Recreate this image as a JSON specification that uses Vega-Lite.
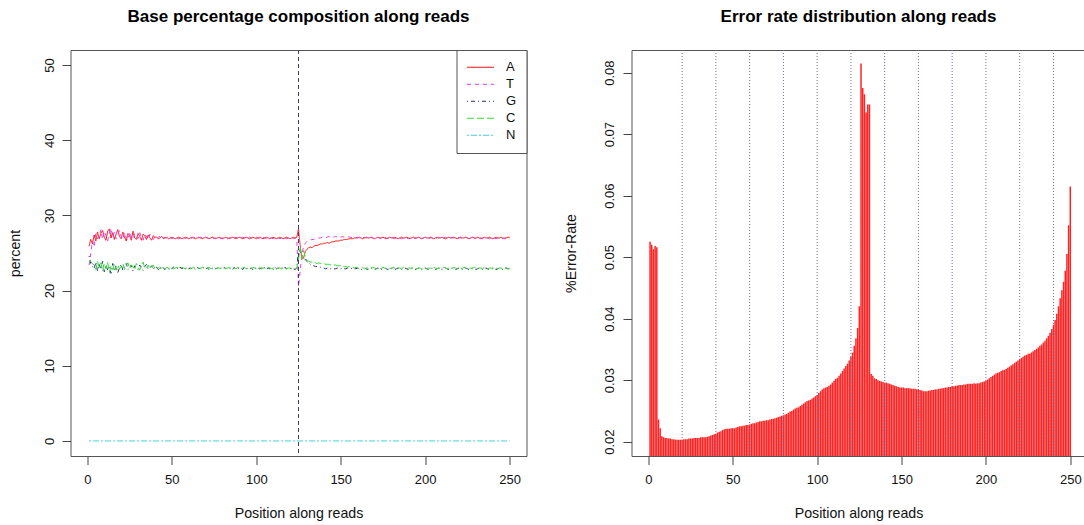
{
"$schema": "https://vega.github.io/schema/vega-lite/v6.json",
"padding": {"left": 7.5, "top": 7, "right": 0, "bottom": 0},
"background": "white",
"bounds": "flush",
"spacing": 105,
"resolve": {"legend": {"color": "independent", "strokeDash": "independent"}},
"config": {
  "font": "Liberation Sans",
  "view": {"stroke": "#555", "strokeWidth": 1},
  "axis": {"domain": false, "grid": false, "ticks": true, "tickColor": "#444", "tickSize": 8.5, "labelFont": "Liberation Sans", "labelFontSize": 13, "labelColor": "#111", "titleFont": "Liberation Sans", "titleFontSize": 14.2, "titleFontWeight": "normal", "titleColor": "#111", "labelFlush": false, "labelOverlap": false},
  "title": {"font": "Liberation Sans", "fontSize": 17, "fontWeight": "bold", "anchor": "middle", "baseline": "alphabetic", "offset": 23.5, "color": "#000"}
},
"datasets": {
  "g": [{"x":20},{"x":40},{"x":60},{"x":80},{"x":100},{"x":120},{"x":140},{"x":160},{"x":180},{"x":200},{"x":220},{"x":240}],
  "d": [
{"p":1,"A":25.9,"T":23.4,"G":24.6,"C":23.8,"N":0,"E":0.0525},
{"p":2,"A":26.8,"T":24.9,"G":23.6,"C":23.9,"N":0,"E":0.0520},
{"p":3,"A":26.2,"T":26.6,"G":23.2,"C":23.6,"N":0,"E":0.0513},
{"p":4,"A":27.4,"T":25.8,"G":22.9,"C":23.4,"N":0,"E":0.0518},
{"p":5,"A":26.6,"T":27.6,"G":23.8,"C":22.8,"N":0,"E":0.0516},
{"p":6,"A":27.8,"T":26.9,"G":22.6,"C":23.9,"N":0,"E":0.0236},
{"p":7,"A":26.9,"T":27.2,"G":23.5,"C":23.1,"N":0,"E":0.0222},
{"p":8,"A":27.6,"T":28.1,"G":22.8,"C":23.7,"N":0,"E":0.0209},
{"p":9,"A":28.0,"T":26.8,"G":23.9,"C":22.6,"N":0,"E":0.0207},
{"p":10,"A":27.1,"T":27.9,"G":22.5,"C":23.6,"N":0,"E":0.0206},
{"p":11,"A":26.7,"T":27.3,"G":23.4,"C":22.9,"N":0,"E":0.0206},
{"p":12,"A":27.9,"T":26.6,"G":22.7,"C":23.8,"N":0,"E":0.0205},
{"p":13,"A":28.2,"T":27.6,"G":23.1,"C":22.4,"N":0,"E":0.0205},
{"p":14,"A":27.0,"T":28.3,"G":22.3,"C":23.3,"N":0,"E":0.0204},
{"p":15,"A":27.7,"T":27.1,"G":23.6,"C":22.8,"N":0,"E":0.0204},
{"p":16,"A":26.8,"T":27.8,"G":22.6,"C":23.5,"N":0,"E":0.0203},
{"p":17,"A":27.5,"T":26.9,"G":23.3,"C":22.7,"N":0,"E":0.0203},
{"p":18,"A":28.1,"T":27.4,"G":22.4,"C":23.4,"N":0,"E":0.0203},
{"p":19,"A":27.2,"T":28.0,"G":23.0,"C":22.9,"N":0,"E":0.0203},
{"p":20,"A":26.9,"T":27.2,"G":23.5,"C":23.2,"N":0,"E":0.0203},
{"p":21,"A":27.8,"T":26.8,"G":22.7,"C":23.6,"N":0,"E":0.0204},
{"p":22,"A":27.1,"T":27.7,"G":23.2,"C":22.8,"N":0,"E":0.0204},
{"p":23,"A":26.6,"T":27.0,"G":23.6,"C":23.3,"N":0,"E":0.0204},
{"p":24,"A":27.6,"T":26.7,"G":22.8,"C":23.7,"N":0,"E":0.0205},
{"p":25,"A":27.3,"T":27.8,"G":23.1,"C":22.9,"N":0,"E":0.0205},
{"p":26,"A":26.7,"T":27.1,"G":23.4,"C":23.4,"N":0,"E":0.0205},
{"p":27,"A":27.9,"T":26.8,"G":22.6,"C":23.2,"N":0,"E":0.0206},
{"p":28,"A":27.0,"T":27.6,"G":23.3,"C":22.8,"N":0,"E":0.0206},
{"p":29,"A":26.8,"T":27.3,"G":23.0,"C":23.6,"N":0,"E":0.0206},
{"p":30,"A":27.6,"T":26.9,"G":22.8,"C":23.1,"N":0,"E":0.0206},
{"p":31,"A":27.2,"T":27.7,"G":23.4,"C":22.7,"N":0,"E":0.0207},
{"p":32,"A":26.7,"T":27.0,"G":23.1,"C":23.4,"N":0,"E":0.0207},
{"p":33,"A":27.5,"T":26.7,"G":22.7,"C":23.8,"N":0,"E":0.0207},
{"p":34,"A":27.3,"T":27.5,"G":23.2,"C":22.9,"N":0,"E":0.0207},
{"p":35,"A":26.8,"T":27.2,"G":23.5,"C":23.0,"N":0,"E":0.0208},
{"p":36,"A":27.4,"T":26.8,"G":22.9,"C":23.4,"N":0,"E":0.0209},
{"p":37,"A":27.0,"T":27.5,"G":23.0,"C":22.9,"N":0,"E":0.0210},
{"p":38,"A":26.7,"T":27.1,"G":23.3,"C":23.2,"N":0,"E":0.0211},
{"p":39,"A":27.3,"T":26.8,"G":22.8,"C":23.4,"N":0,"E":0.0212},
{"p":40,"A":27.1,"T":27.2,"G":23.2,"C":22.9,"N":0,"E":0.0213},
{"p":41,"A":27.1,"T":26.9,"G":23.1,"C":22.9,"N":0,"E":0.0215},
{"p":42,"A":26.9,"T":27.1,"G":22.8,"C":23.1,"N":0,"E":0.0216},
{"p":43,"A":27.0,"T":27.2,"G":23.2,"C":22.9,"N":0,"E":0.0217},
{"p":44,"A":27.2,"T":26.9,"G":22.9,"C":23.0,"N":0,"E":0.0219},
{"p":45,"A":26.9,"T":27.0,"G":23.0,"C":23.2,"N":0,"E":0.0220},
{"p":46,"A":27.0,"T":27.1,"G":22.8,"C":22.9,"N":0,"E":0.0221},
{"p":47,"A":27.1,"T":26.9,"G":23.1,"C":23.1,"N":0,"E":0.0221},
{"p":48,"A":26.9,"T":27.0,"G":22.9,"C":23.0,"N":0,"E":0.0221},
{"p":49,"A":27.0,"T":27.1,"G":23.0,"C":22.8,"N":0,"E":0.0222},
{"p":50,"A":27.1,"T":26.9,"G":22.9,"C":23.1,"N":0,"E":0.0222},
{"p":51,"A":27.0,"T":27.0,"G":23.1,"C":22.9,"N":0,"E":0.0222},
{"p":52,"A":26.9,"T":27.1,"G":22.9,"C":23.0,"N":0,"E":0.0223},
{"p":53,"A":27.0,"T":27.0,"G":23.0,"C":23.1,"N":0,"E":0.0224},
{"p":54,"A":27.1,"T":26.9,"G":22.8,"C":23.0,"N":0,"E":0.0225},
{"p":55,"A":27.0,"T":27.0,"G":23.1,"C":22.9,"N":0,"E":0.0225},
{"p":56,"A":26.9,"T":27.1,"G":22.9,"C":23.1,"N":0,"E":0.0226},
{"p":57,"A":27.0,"T":27.0,"G":23.0,"C":23.0,"N":0,"E":0.0226},
{"p":58,"A":27.1,"T":26.9,"G":22.9,"C":22.9,"N":0,"E":0.0227},
{"p":59,"A":27.0,"T":27.1,"G":23.1,"C":23.0,"N":0,"E":0.0227},
{"p":60,"A":26.9,"T":27.0,"G":22.9,"C":23.1,"N":0,"E":0.0228},
{"p":61,"A":27.0,"T":26.9,"G":23.0,"C":22.9,"N":0,"E":0.0229},
{"p":62,"A":27.1,"T":27.0,"G":22.9,"C":23.0,"N":0,"E":0.0230},
{"p":63,"A":27.0,"T":27.1,"G":23.0,"C":23.1,"N":0,"E":0.0230},
{"p":64,"A":26.9,"T":27.0,"G":22.8,"C":22.9,"N":0,"E":0.0231},
{"p":65,"A":27.0,"T":26.9,"G":23.1,"C":23.0,"N":0,"E":0.0232},
{"p":66,"A":27.1,"T":27.0,"G":22.9,"C":23.0,"N":0,"E":0.0233},
{"p":67,"A":27.0,"T":27.1,"G":23.0,"C":22.9,"N":0,"E":0.0233},
{"p":68,"A":26.9,"T":27.0,"G":22.9,"C":23.1,"N":0,"E":0.0234},
{"p":69,"A":27.0,"T":26.9,"G":23.1,"C":23.0,"N":0,"E":0.0234},
{"p":70,"A":27.1,"T":27.0,"G":22.9,"C":22.9,"N":0,"E":0.0235},
{"p":71,"A":27.0,"T":27.1,"G":23.0,"C":23.0,"N":0,"E":0.0235},
{"p":72,"A":26.9,"T":26.9,"G":22.8,"C":23.1,"N":0,"E":0.0236},
{"p":73,"A":27.0,"T":27.0,"G":23.0,"C":22.9,"N":0,"E":0.0237},
{"p":74,"A":27.1,"T":27.1,"G":22.9,"C":23.0,"N":0,"E":0.0237},
{"p":75,"A":27.0,"T":26.9,"G":23.1,"C":23.1,"N":0,"E":0.0238},
{"p":76,"A":26.9,"T":27.0,"G":22.9,"C":22.9,"N":0,"E":0.0239},
{"p":77,"A":27.0,"T":27.1,"G":23.0,"C":23.0,"N":0,"E":0.0240},
{"p":78,"A":27.1,"T":27.0,"G":22.8,"C":23.0,"N":0,"E":0.0241},
{"p":79,"A":27.0,"T":26.9,"G":23.0,"C":22.9,"N":0,"E":0.0242},
{"p":80,"A":26.9,"T":27.0,"G":22.9,"C":23.1,"N":0,"E":0.0243},
{"p":81,"A":27.0,"T":27.1,"G":23.1,"C":23.0,"N":0,"E":0.0244},
{"p":82,"A":27.1,"T":27.0,"G":22.9,"C":22.9,"N":0,"E":0.0245},
{"p":83,"A":27.0,"T":26.9,"G":23.0,"C":23.0,"N":0,"E":0.0247},
{"p":84,"A":26.9,"T":27.0,"G":22.9,"C":23.1,"N":0,"E":0.0249},
{"p":85,"A":27.0,"T":27.1,"G":23.0,"C":22.9,"N":0,"E":0.0250},
{"p":86,"A":27.1,"T":26.9,"G":22.8,"C":23.0,"N":0,"E":0.0252},
{"p":87,"A":27.0,"T":27.0,"G":23.1,"C":23.0,"N":0,"E":0.0254},
{"p":88,"A":26.9,"T":27.1,"G":22.9,"C":22.9,"N":0,"E":0.0255},
{"p":89,"A":27.0,"T":27.0,"G":23.0,"C":23.1,"N":0,"E":0.0256},
{"p":90,"A":27.1,"T":26.9,"G":22.9,"C":23.0,"N":0,"E":0.0258},
{"p":91,"A":27.0,"T":27.0,"G":23.0,"C":22.9,"N":0,"E":0.0260},
{"p":92,"A":26.9,"T":27.1,"G":22.8,"C":23.0,"N":0,"E":0.0262},
{"p":93,"A":27.0,"T":27.0,"G":23.1,"C":23.1,"N":0,"E":0.0264},
{"p":94,"A":27.1,"T":26.9,"G":22.9,"C":22.9,"N":0,"E":0.0266},
{"p":95,"A":27.0,"T":27.0,"G":23.0,"C":23.0,"N":0,"E":0.0267},
{"p":96,"A":26.9,"T":27.1,"G":22.9,"C":23.0,"N":0,"E":0.0268},
{"p":97,"A":27.0,"T":27.0,"G":23.0,"C":22.9,"N":0,"E":0.0270},
{"p":98,"A":27.1,"T":26.9,"G":22.8,"C":23.1,"N":0,"E":0.0272},
{"p":99,"A":27.0,"T":27.0,"G":23.1,"C":23.0,"N":0,"E":0.0274},
{"p":100,"A":26.9,"T":27.1,"G":22.9,"C":22.9,"N":0,"E":0.0276},
{"p":101,"A":27.0,"T":27.0,"G":23.0,"C":23.0,"N":0,"E":0.0279},
{"p":102,"A":27.1,"T":26.9,"G":22.9,"C":23.1,"N":0,"E":0.0282},
{"p":103,"A":27.0,"T":27.0,"G":23.0,"C":22.9,"N":0,"E":0.0285},
{"p":104,"A":26.9,"T":27.1,"G":22.8,"C":23.0,"N":0,"E":0.0287},
{"p":105,"A":27.0,"T":27.0,"G":23.1,"C":23.0,"N":0,"E":0.0288},
{"p":106,"A":27.1,"T":26.9,"G":22.9,"C":22.9,"N":0,"E":0.0289},
{"p":107,"A":27.0,"T":27.0,"G":23.0,"C":23.1,"N":0,"E":0.0291},
{"p":108,"A":26.9,"T":27.1,"G":22.9,"C":23.0,"N":0,"E":0.0293},
{"p":109,"A":27.0,"T":27.0,"G":23.0,"C":22.9,"N":0,"E":0.0296},
{"p":110,"A":27.1,"T":26.9,"G":22.8,"C":23.0,"N":0,"E":0.0299},
{"p":111,"A":27.0,"T":27.0,"G":23.1,"C":23.1,"N":0,"E":0.0302},
{"p":112,"A":26.9,"T":27.1,"G":22.9,"C":22.9,"N":0,"E":0.0304},
{"p":113,"A":27.0,"T":27.0,"G":23.0,"C":23.0,"N":0,"E":0.0307},
{"p":114,"A":27.1,"T":26.9,"G":22.9,"C":23.0,"N":0,"E":0.0311},
{"p":115,"A":27.0,"T":27.0,"G":23.0,"C":22.9,"N":0,"E":0.0315},
{"p":116,"A":26.9,"T":27.1,"G":22.8,"C":23.1,"N":0,"E":0.0319},
{"p":117,"A":27.0,"T":27.0,"G":23.1,"C":23.0,"N":0,"E":0.0323},
{"p":118,"A":27.1,"T":26.9,"G":22.9,"C":22.9,"N":0,"E":0.0327},
{"p":119,"A":27.0,"T":27.0,"G":23.0,"C":23.0,"N":0,"E":0.0332},
{"p":120,"A":26.9,"T":27.1,"G":22.9,"C":23.0,"N":0,"E":0.0338},
{"p":121,"A":27.0,"T":27.0,"G":23.0,"C":22.9,"N":0,"E":0.0345},
{"p":122,"A":27.1,"T":26.9,"G":22.9,"C":23.0,"N":0,"E":0.0356},
{"p":123,"A":27.0,"T":27.0,"G":22.8,"C":22.9,"N":0,"E":0.0368},
{"p":124,"A":27.1,"T":26.9,"G":23.0,"C":23.0,"N":0,"E":0.0385},
{"p":125,"A":28.2,"T":20.5,"G":25.4,"C":24.2,"N":0,"E":0.0420},
{"p":126,"A":26.0,"T":22.6,"G":25.2,"C":25.6,"N":0,"E":0.0815},
{"p":127,"A":24.2,"T":24.8,"G":24.7,"C":24.2,"N":0,"E":0.0775},
{"p":128,"A":24.3,"T":25.9,"G":24.5,"C":25.3,"N":0,"E":0.0765},
{"p":129,"A":25.2,"T":26.3,"G":24.1,"C":24.5,"N":0,"E":0.0735},
{"p":130,"A":25.5,"T":26.5,"G":23.9,"C":24.0,"N":0,"E":0.0748},
{"p":131,"A":25.7,"T":26.6,"G":23.7,"C":23.9,"N":0,"E":0.0748},
{"p":132,"A":25.8,"T":26.7,"G":23.5,"C":23.8,"N":0,"E":0.0310},
{"p":133,"A":25.7,"T":26.8,"G":23.4,"C":23.8,"N":0,"E":0.0307},
{"p":134,"A":25.9,"T":26.8,"G":23.3,"C":23.7,"N":0,"E":0.0303},
{"p":135,"A":26.0,"T":26.9,"G":23.2,"C":23.7,"N":0,"E":0.0302},
{"p":136,"A":26.0,"T":26.9,"G":23.2,"C":23.6,"N":0,"E":0.0300},
{"p":137,"A":26.1,"T":27.0,"G":23.1,"C":23.7,"N":0,"E":0.0299},
{"p":138,"A":26.2,"T":27.0,"G":23.1,"C":23.6,"N":0,"E":0.0298},
{"p":139,"A":26.2,"T":27.1,"G":23.0,"C":23.6,"N":0,"E":0.0297},
{"p":140,"A":26.3,"T":27.1,"G":23.0,"C":23.6,"N":0,"E":0.0296},
{"p":141,"A":26.3,"T":27.0,"G":22.9,"C":23.5,"N":0,"E":0.0296},
{"p":142,"A":26.4,"T":27.1,"G":23.0,"C":23.5,"N":0,"E":0.0295},
{"p":143,"A":26.3,"T":27.2,"G":22.9,"C":23.5,"N":0,"E":0.0294},
{"p":144,"A":26.4,"T":27.1,"G":22.9,"C":23.4,"N":0,"E":0.0293},
{"p":145,"A":26.5,"T":27.2,"G":23.0,"C":23.5,"N":0,"E":0.0292},
{"p":146,"A":26.5,"T":27.1,"G":22.9,"C":23.4,"N":0,"E":0.0291},
{"p":147,"A":26.6,"T":27.2,"G":22.9,"C":23.4,"N":0,"E":0.0290},
{"p":148,"A":26.6,"T":27.1,"G":23.0,"C":23.3,"N":0,"E":0.0289},
{"p":149,"A":26.6,"T":27.2,"G":22.9,"C":23.3,"N":0,"E":0.0288},
{"p":150,"A":26.7,"T":27.1,"G":22.9,"C":23.3,"N":0,"E":0.0288},
{"p":151,"A":26.7,"T":27.2,"G":23.0,"C":23.2,"N":0,"E":0.0288},
{"p":152,"A":26.8,"T":27.1,"G":22.9,"C":23.2,"N":0,"E":0.0287},
{"p":153,"A":26.8,"T":27.1,"G":22.9,"C":23.2,"N":0,"E":0.0287},
{"p":154,"A":26.8,"T":27.2,"G":23.0,"C":23.1,"N":0,"E":0.0287},
{"p":155,"A":26.9,"T":27.1,"G":22.9,"C":23.2,"N":0,"E":0.0287},
{"p":156,"A":26.9,"T":27.1,"G":22.9,"C":23.1,"N":0,"E":0.0286},
{"p":157,"A":26.9,"T":27.0,"G":23.0,"C":23.1,"N":0,"E":0.0286},
{"p":158,"A":27.0,"T":27.1,"G":22.9,"C":23.0,"N":0,"E":0.0286},
{"p":159,"A":27.0,"T":27.0,"G":22.9,"C":23.1,"N":0,"E":0.0285},
{"p":160,"A":27.0,"T":27.1,"G":23.0,"C":23.0,"N":0,"E":0.0285},
{"p":161,"A":27.1,"T":27.0,"G":22.9,"C":22.9,"N":0,"E":0.0284},
{"p":162,"A":27.0,"T":26.9,"G":22.8,"C":23.0,"N":0,"E":0.0283},
{"p":163,"A":26.9,"T":27.0,"G":22.9,"C":23.1,"N":0,"E":0.0282},
{"p":164,"A":27.0,"T":27.1,"G":23.0,"C":22.9,"N":0,"E":0.0282},
{"p":165,"A":27.1,"T":27.0,"G":22.9,"C":23.0,"N":0,"E":0.0282},
{"p":166,"A":27.0,"T":26.9,"G":22.8,"C":23.0,"N":0,"E":0.0283},
{"p":167,"A":27.0,"T":27.0,"G":22.9,"C":22.9,"N":0,"E":0.0283},
{"p":168,"A":27.1,"T":27.1,"G":23.0,"C":23.0,"N":0,"E":0.0284},
{"p":169,"A":27.0,"T":27.0,"G":22.9,"C":23.1,"N":0,"E":0.0284},
{"p":170,"A":26.9,"T":26.9,"G":22.8,"C":23.0,"N":0,"E":0.0285},
{"p":171,"A":27.0,"T":27.0,"G":22.9,"C":22.9,"N":0,"E":0.0285},
{"p":172,"A":27.1,"T":27.1,"G":23.0,"C":23.0,"N":0,"E":0.0286},
{"p":173,"A":27.0,"T":27.0,"G":22.9,"C":23.0,"N":0,"E":0.0286},
{"p":174,"A":27.0,"T":26.9,"G":22.8,"C":22.9,"N":0,"E":0.0287},
{"p":175,"A":27.1,"T":27.0,"G":22.9,"C":23.1,"N":0,"E":0.0287},
{"p":176,"A":27.0,"T":27.1,"G":23.0,"C":23.0,"N":0,"E":0.0288},
{"p":177,"A":26.9,"T":27.0,"G":22.9,"C":22.9,"N":0,"E":0.0288},
{"p":178,"A":27.0,"T":26.9,"G":22.8,"C":23.0,"N":0,"E":0.0289},
{"p":179,"A":27.1,"T":27.0,"G":22.9,"C":23.0,"N":0,"E":0.0289},
{"p":180,"A":27.0,"T":27.1,"G":23.0,"C":22.9,"N":0,"E":0.0290},
{"p":181,"A":27.0,"T":27.0,"G":22.9,"C":23.1,"N":0,"E":0.0290},
{"p":182,"A":27.1,"T":26.9,"G":22.8,"C":23.0,"N":0,"E":0.0291},
{"p":183,"A":27.0,"T":27.0,"G":22.9,"C":22.9,"N":0,"E":0.0291},
{"p":184,"A":26.9,"T":27.1,"G":23.0,"C":23.0,"N":0,"E":0.0292},
{"p":185,"A":27.0,"T":27.0,"G":22.9,"C":23.0,"N":0,"E":0.0292},
{"p":186,"A":27.1,"T":26.9,"G":22.8,"C":22.9,"N":0,"E":0.0292},
{"p":187,"A":27.0,"T":27.0,"G":22.9,"C":23.1,"N":0,"E":0.0293},
{"p":188,"A":27.0,"T":27.1,"G":23.0,"C":23.0,"N":0,"E":0.0293},
{"p":189,"A":27.1,"T":27.0,"G":22.9,"C":22.9,"N":0,"E":0.0294},
{"p":190,"A":27.0,"T":26.9,"G":22.8,"C":23.0,"N":0,"E":0.0294},
{"p":191,"A":26.9,"T":27.0,"G":22.9,"C":23.0,"N":0,"E":0.0294},
{"p":192,"A":27.0,"T":27.1,"G":23.0,"C":22.9,"N":0,"E":0.0294},
{"p":193,"A":27.1,"T":27.0,"G":22.9,"C":23.1,"N":0,"E":0.0295},
{"p":194,"A":27.0,"T":26.9,"G":22.8,"C":23.0,"N":0,"E":0.0294},
{"p":195,"A":27.0,"T":27.0,"G":22.9,"C":22.9,"N":0,"E":0.0295},
{"p":196,"A":27.1,"T":27.1,"G":23.0,"C":23.0,"N":0,"E":0.0295},
{"p":197,"A":27.0,"T":27.0,"G":22.9,"C":23.0,"N":0,"E":0.0296},
{"p":198,"A":26.9,"T":26.9,"G":22.8,"C":22.9,"N":0,"E":0.0297},
{"p":199,"A":27.0,"T":27.0,"G":22.9,"C":23.1,"N":0,"E":0.0298},
{"p":200,"A":27.1,"T":27.1,"G":23.0,"C":23.0,"N":0,"E":0.0299},
{"p":201,"A":27.0,"T":27.0,"G":22.9,"C":22.9,"N":0,"E":0.0301},
{"p":202,"A":27.0,"T":26.9,"G":22.8,"C":23.0,"N":0,"E":0.0303},
{"p":203,"A":27.1,"T":27.0,"G":22.9,"C":23.0,"N":0,"E":0.0305},
{"p":204,"A":27.0,"T":27.1,"G":23.0,"C":22.9,"N":0,"E":0.0307},
{"p":205,"A":26.9,"T":27.0,"G":22.9,"C":23.1,"N":0,"E":0.0309},
{"p":206,"A":27.0,"T":26.9,"G":22.8,"C":23.0,"N":0,"E":0.0311},
{"p":207,"A":27.1,"T":27.0,"G":22.9,"C":22.9,"N":0,"E":0.0312},
{"p":208,"A":27.0,"T":27.1,"G":23.0,"C":23.0,"N":0,"E":0.0313},
{"p":209,"A":27.0,"T":27.0,"G":22.9,"C":23.0,"N":0,"E":0.0315},
{"p":210,"A":27.1,"T":26.9,"G":22.8,"C":22.9,"N":0,"E":0.0316},
{"p":211,"A":27.0,"T":27.0,"G":22.9,"C":23.1,"N":0,"E":0.0317},
{"p":212,"A":26.9,"T":27.1,"G":23.0,"C":23.0,"N":0,"E":0.0318},
{"p":213,"A":27.0,"T":27.0,"G":22.9,"C":22.9,"N":0,"E":0.0320},
{"p":214,"A":27.1,"T":26.9,"G":22.8,"C":23.0,"N":0,"E":0.0322},
{"p":215,"A":27.0,"T":27.0,"G":22.9,"C":23.0,"N":0,"E":0.0324},
{"p":216,"A":27.0,"T":27.1,"G":23.0,"C":22.9,"N":0,"E":0.0326},
{"p":217,"A":27.1,"T":27.0,"G":22.9,"C":23.1,"N":0,"E":0.0328},
{"p":218,"A":27.0,"T":26.9,"G":22.8,"C":23.0,"N":0,"E":0.0330},
{"p":219,"A":26.9,"T":27.0,"G":22.9,"C":22.9,"N":0,"E":0.0332},
{"p":220,"A":27.0,"T":27.1,"G":23.0,"C":23.0,"N":0,"E":0.0334},
{"p":221,"A":27.1,"T":27.0,"G":22.9,"C":23.0,"N":0,"E":0.0336},
{"p":222,"A":27.0,"T":26.9,"G":22.8,"C":22.9,"N":0,"E":0.0338},
{"p":223,"A":27.0,"T":27.0,"G":22.9,"C":23.1,"N":0,"E":0.0340},
{"p":224,"A":27.1,"T":27.1,"G":23.0,"C":23.0,"N":0,"E":0.0341},
{"p":225,"A":27.0,"T":27.0,"G":22.9,"C":22.9,"N":0,"E":0.0343},
{"p":226,"A":26.9,"T":26.9,"G":22.8,"C":23.0,"N":0,"E":0.0343},
{"p":227,"A":27.0,"T":27.0,"G":22.9,"C":23.0,"N":0,"E":0.0345},
{"p":228,"A":27.1,"T":27.1,"G":23.0,"C":22.9,"N":0,"E":0.0347},
{"p":229,"A":27.0,"T":27.0,"G":22.9,"C":23.1,"N":0,"E":0.0349},
{"p":230,"A":27.0,"T":26.9,"G":22.8,"C":23.0,"N":0,"E":0.0351},
{"p":231,"A":27.1,"T":27.0,"G":22.9,"C":22.9,"N":0,"E":0.0353},
{"p":232,"A":27.0,"T":27.1,"G":23.0,"C":23.0,"N":0,"E":0.0356},
{"p":233,"A":26.9,"T":27.0,"G":22.9,"C":23.0,"N":0,"E":0.0358},
{"p":234,"A":27.0,"T":26.9,"G":22.8,"C":22.9,"N":0,"E":0.0361},
{"p":235,"A":27.1,"T":27.0,"G":22.9,"C":23.1,"N":0,"E":0.0364},
{"p":236,"A":27.0,"T":27.1,"G":23.0,"C":23.0,"N":0,"E":0.0368},
{"p":237,"A":27.0,"T":27.0,"G":22.9,"C":22.9,"N":0,"E":0.0372},
{"p":238,"A":27.1,"T":26.9,"G":22.8,"C":23.0,"N":0,"E":0.0377},
{"p":239,"A":27.0,"T":27.0,"G":22.9,"C":23.0,"N":0,"E":0.0383},
{"p":240,"A":26.9,"T":27.1,"G":23.0,"C":22.9,"N":0,"E":0.0390},
{"p":241,"A":27.0,"T":27.0,"G":22.9,"C":23.1,"N":0,"E":0.0398},
{"p":242,"A":27.1,"T":26.9,"G":22.8,"C":23.0,"N":0,"E":0.0408},
{"p":243,"A":27.0,"T":27.0,"G":22.9,"C":22.9,"N":0,"E":0.0420},
{"p":244,"A":27.0,"T":27.1,"G":23.0,"C":23.0,"N":0,"E":0.0433},
{"p":245,"A":27.1,"T":27.0,"G":22.9,"C":23.0,"N":0,"E":0.0446},
{"p":246,"A":27.0,"T":26.9,"G":22.8,"C":22.9,"N":0,"E":0.0460},
{"p":247,"A":26.9,"T":27.0,"G":22.9,"C":23.1,"N":0,"E":0.0478},
{"p":248,"A":27.0,"T":27.1,"G":23.0,"C":23.0,"N":0,"E":0.0505},
{"p":249,"A":27.1,"T":27.0,"G":22.9,"C":22.9,"N":0,"E":0.0552},
{"p":250,"A":27.1,"T":27.0,"G":22.9,"C":23.0,"N":0,"E":0.0615}
  ]
},
"hconcat": [
  {
    "width": 456, "height": 406,
    "title": "Base percentage composition along reads",
    "layer": [
      {
        "data": {"name": "d"},
        "transform": [{"fold": ["A", "T", "G", "C", "N"], "as": ["base", "pct"]}],
        "mark": {"type": "line", "strokeWidth": 1, "clip": true},
        "encoding": {
          "x": {"field": "p", "type": "quantitative", "scale": {"domain": [-10, 260], "nice": false, "zero": false},
                "axis": {"values": [0, 50, 100, 150, 200, 250], "title": "Position along reads", "labelBaseline": "alphabetic", "labelPadding": 18.5, "titleBaseline": "alphabetic", "titleY": 61.4, "titleX": 228, "titleAlign": "center"}},
          "y": {"field": "pct", "type": "quantitative", "scale": {"domain": [-2, 52], "nice": false, "zero": false},
                "axis": {"values": [0, 10, 20, 30, 40, 50], "title": "percent", "labelAngle": 270, "labelAlign": "center", "labelBaseline": "alphabetic", "labelPadding": 8.5, "titleAngle": 270, "titleBaseline": "alphabetic", "titleAlign": "center", "titleX": -51, "titleY": 203}},
          "color": {"field": "base", "type": "nominal",
                    "scale": {"domain": ["A", "T", "G", "C", "N"], "range": ["#ff1010", "#e03ce0", "#2b2b80", "#2ee02e", "#3cd0d0"]},
                    "legend": {"title": null, "orient": "top-right", "offset": 0, "padding": 10, "fillColor": "white", "strokeColor": "#555", "symbolType": "stroke", "symbolSize": 729, "symbolStrokeWidth": 1, "labelFontSize": 13, "labelFont": "Liberation Sans", "labelColor": "#111", "labelOffset": 11.6, "clipHeight": 14.5, "rowPadding": 2}},
          "strokeDash": {"field": "base", "type": "nominal",
                    "scale": {"domain": ["A", "T", "G", "C", "N"], "range": [[1, 0], [4, 4], [1, 3, 4, 3], [7, 3], [2, 2, 6, 2]]},
                    "legend": {"title": null, "orient": "top-right", "offset": 0, "padding": 10, "fillColor": "white", "strokeColor": "#555", "symbolType": "stroke", "symbolSize": 729, "symbolStrokeWidth": 1, "labelFontSize": 13, "labelFont": "Liberation Sans", "labelColor": "#111", "labelOffset": 11.6, "clipHeight": 14.5, "rowPadding": 2}}
        }
      },
      {
        "data": {"values": [{}]},
        "mark": {"type": "rule", "strokeDash": [4, 3], "color": "#3c3c78", "strokeWidth": 1},
        "encoding": {"x": {"datum": 125, "type": "quantitative"}}
      }
    ]
  },
  {
    "width": 454, "height": 406,
    "title": "Error rate distribution along reads",
    "layer": [
      {
        "data": {"name": "d"},
        "mark": {"type": "bar", "color": "#ff2222", "size": 1.5, "clip": true, "orient": "vertical"},
        "encoding": {
          "x": {"field": "p", "type": "quantitative", "scale": {"domain": [-10, 259], "nice": false, "zero": false, "padding": 0},
                "axis": {"values": [0, 50, 100, 150, 200, 250], "title": "Position along reads", "labelBaseline": "alphabetic", "labelPadding": 18.5, "titleBaseline": "alphabetic", "titleY": 61.4, "titleX": 227, "titleAlign": "center"}},
          "y": {"field": "E", "type": "quantitative", "scale": {"domain": [0.01767, 0.08368], "nice": false, "zero": false},
                "axis": {"values": [0.02, 0.03, 0.04, 0.05, 0.06, 0.07, 0.08], "format": ".2f", "title": "%Error-Rate", "labelAngle": 270, "labelAlign": "center", "labelBaseline": "alphabetic", "labelPadding": 9.5, "titleAngle": 270, "titleBaseline": "alphabetic", "titleAlign": "center", "titleX": -56, "titleY": 203}}
        }
      },
      {
        "data": {"name": "g"},
        "mark": {"type": "rule", "color": "#6d6daa", "strokeDash": [1, 2], "strokeWidth": 1},
        "encoding": {"x": {"field": "x", "type": "quantitative"}}
      }
    ]
  }
]
}
